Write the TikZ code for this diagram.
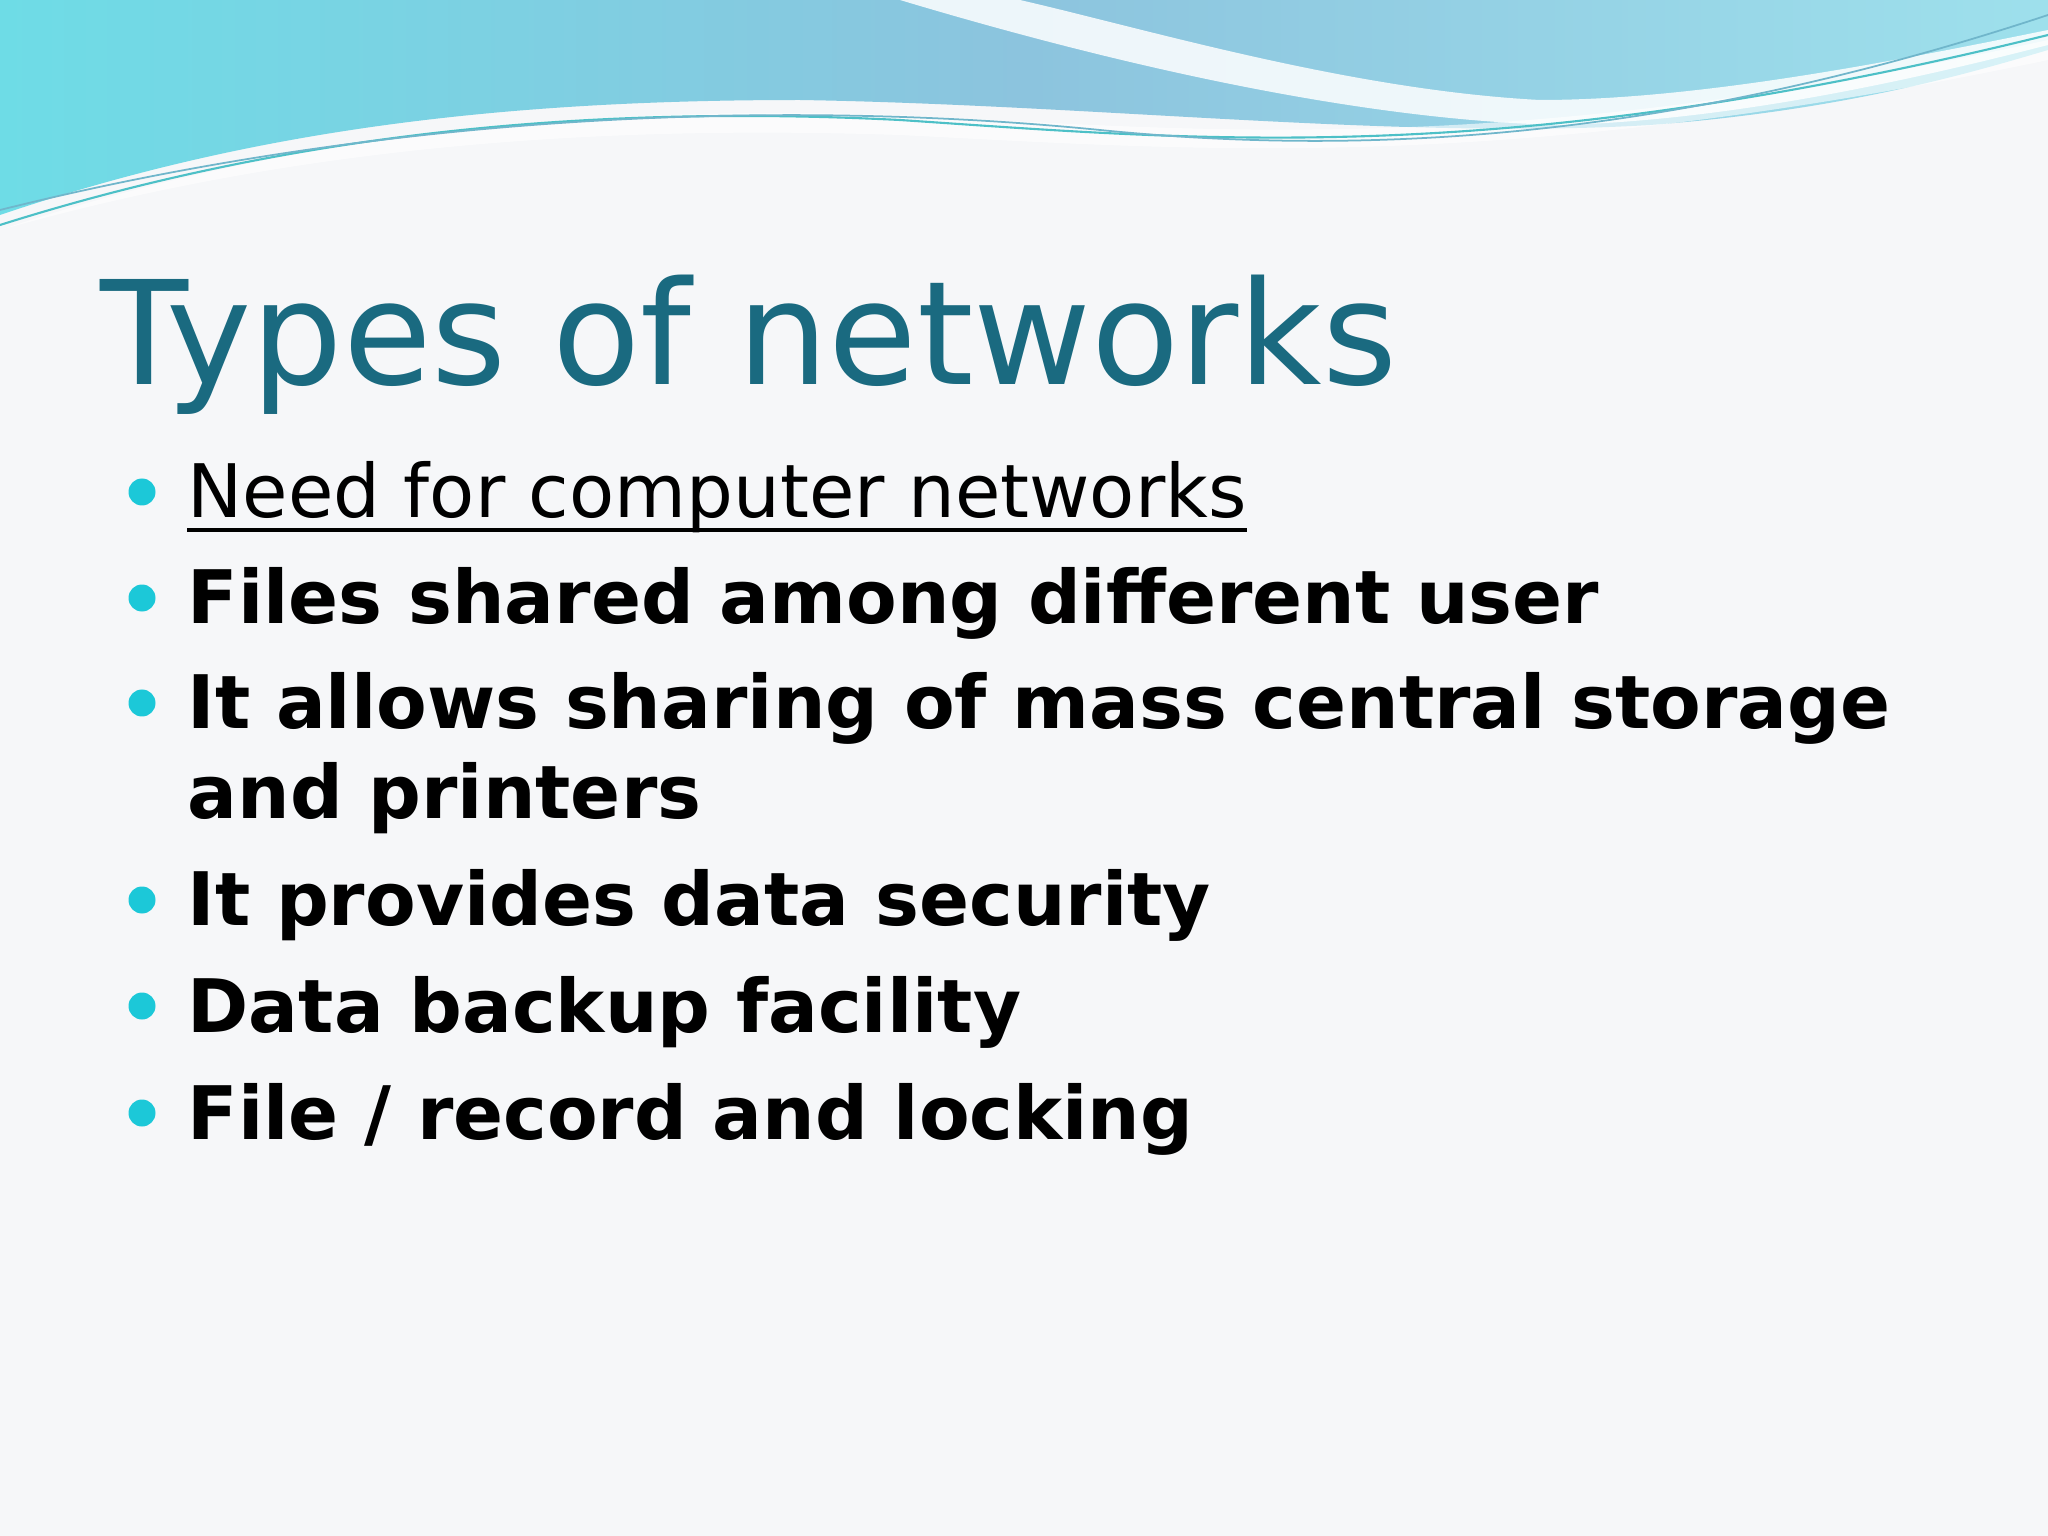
\documentclass[tikz,border=0pt]{standalone}
\usepackage{fontspec}
\setmainfont{DejaVu Sans}
\definecolor{titlec}{HTML}{1A6A80}
\definecolor{bulc}{HTML}{1CC8D8}
\definecolor{wave1}{HTML}{8CC4DE}
\definecolor{wave2}{HTML}{6EDCE6}
\definecolor{wave3}{HTML}{9EE0EC}
\definecolor{bg}{HTML}{F6F7F9}
\tikzset{
  item/.style={anchor=base west, inner sep=0pt, font=\fontsize{21}{26}\selectfont\bfseries, text=black},
  bul/.style={circle, fill=bulc, inner sep=0pt, minimum size=0.27cm},
}
\begin{document}
\begin{tikzpicture}
\useasboundingbox (0,0) rectangle (20.48,-15.36);
\fill[bg] (0,0) rectangle (20.48,-15.36);
% waves
\shade[left color=wave2, right color=wave3, middle color=wave1]
  (0,0) -- (0,-2.15) .. controls (2.5,-1.3) and (5,-1.0) .. (8,-1.0)
  .. controls (11,-1.05) and (14,-1.4) .. (16.5,-1.25)
  .. controls (18.5,-1.1) and (19.8,-0.7) .. (20.48,-0.5) -- (20.48,0) -- cycle;
\fill[white, opacity=0.85] (9.0,0) .. controls (11,-0.6) and (13.5,-1.2) .. (15.6,-1.25)
  .. controls (17.5,-1.2) and (19.5,-0.7) .. (20.48,-0.45) -- (20.48,-0.3)
  .. controls (19,-0.6) and (17,-1.0) .. (15.4,-1.0)
  .. controls (13.5,-0.9) and (11.5,-0.3) .. (10.2,0) -- cycle;
\fill[white, opacity=0.6] (0,-2.3) .. controls (3,-1.3) and (6,-1.05) .. (9,-1.15)
  .. controls (12,-1.3) and (15,-1.6) .. (20.48,-0.4) -- (20.48,-0.6)
  .. controls (15,-1.75) and (12,-1.5) .. (9,-1.35) .. controls (6,-1.25) and (3,-1.45) .. (0,-2.3);
\draw[wave2!70!teal, line width=0.6pt] (0,-2.25) .. controls (3,-1.3) and (6,-1.05) .. (9,-1.2)
  .. controls (12,-1.4) and (15,-1.7) .. (20.48,-0.35);
\draw[wave1!80!teal, line width=0.5pt] (0,-2.1) .. controls (4,-1.1) and (8,-1.0) .. (11,-1.3)
  .. controls (14,-1.6) and (17,-1.3) .. (20.48,-0.15);
% title
\node[anchor=base west, inner sep=0pt, text=titlec, font=\fontsize{41}{48}\selectfont] (title) at (1.0,-3.85) {Types of networks};
% bullets
\node[anchor=base west, inner sep=0pt, font=\fontsize{21}{26}\selectfont] (t1) at (1.87,-5.18) {Need for computer networks};
\draw[line width=0.9pt] ([yshift=-0.12cm]t1.base west) -- ([yshift=-0.12cm]t1.base east);
\node[item] (t2) at (1.87,-6.24) {Files shared among different user};
\node[item] (t3) at (1.87,-7.29) {It allows sharing of mass central storage};
\node[item] (t3b) at (1.87,-8.19) {and printers};
\node[item] (t4) at (1.87,-9.26) {It provides data security};
\node[item] (t5) at (1.87,-10.32) {Data backup facility};
\node[item] (t6) at (1.87,-11.39) {File / record and locking};
\foreach \n/\y in {b1/-5.18,b2/-6.24,b3/-7.29,b4/-9.26,b5/-10.32,b6/-11.39}
  \node[bul] (\n) at (1.42,\y+0.26) {};
\end{tikzpicture}
\end{document}
